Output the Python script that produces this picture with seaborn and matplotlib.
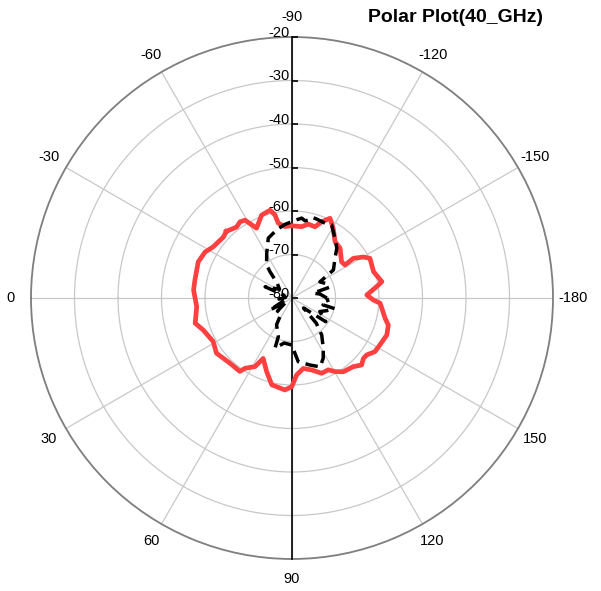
import numpy as np
import pandas as pd
import matplotlib
matplotlib.use("Agg")
import matplotlib.pyplot as plt
import matplotlib.transforms as mtransforms
import matplotlib.markers as mmarkers
import seaborn as sns

# ---------------- data (angle in degrees, level in dB) ----------------
red_theta = [-45.4, -52.0, -55.7, -58.9, -63.1, -69.9, -76.0, -78.4, -79.6, -84.4,
             -89.8, -97.7, -102.5, -107.9, -111.3, -115.5, -120.6, -127.4, -134.0, -143.9,
             -148.1, -147.1, -150.1, -153.0, -162.1, -169.7, -172.4, -177.7, 178.6, 176.6,
             173.4, 167.7, 164.3, 158.7, 151.9, 147.1, 142.7, 139.8, 136.1, 131.7,
             124.8, 120.3, 116.8, 111.5, 105.3, 99.1, 93.5, 89.8, 85.6, 76.9,
             71.0, 64.5, 61.7, 56.2, 54.6, 46.3, 36.2, 28.9, 19.8, 14.6,
             5.2, -4.6, -10.5, -21.1, -27.9, -33.0, -41.6]
red_value = [-58.5, -59.3, -58.8, -59.1, -62.0, -59.7, -59.2, -60.5, -62.5, -63.5,
             -63.4, -63.45, -62.6, -62.8, -61.2, -59.7, -61.4, -63.7, -64.1, -65.9,
             -65.65, -63.2, -61.1, -59.9, -60.3, -59.0, -60.4, -62.8, -61.3, -59.7,
             -59.2, -58.1, -57.0, -56.6, -57.1, -57.3, -58.4, -58.5, -57.8, -58.85,
             -59.35, -60.4, -61.5, -61.4, -62.85, -63.6, -62.3, -59.6, -58.8, -59.5,
             -62.1, -64.6, -62.1, -60.55, -59.3, -59.3, -58.5, -59.3, -58.3, -57.0,
             -58.0, -57.3, -57.3, -56.9, -57.4, -58.4, -58.9]

black_theta = [-180, -172, -167, -164, -157, -150, -145.9, -137.3, -132.0, -125.8,
               -118.5, -113.8, -107.4, -104.9, -103, -99.6, -96.9, -93.4, -84.6, -80.3,
               -77, -68.4, -60.5, -52.5, -50.1, -45, -35, -22.7, -19, -5,
               5, 16, 28.6, 33, 42, 55, 60, 70.5, 71.3, 80,
               89.6, 95.6, 105.0, 112.2, 117.4, 121.9, 128.8, 134, 139, 145,
               154, 160, 166, 167.5, 172, 180]
black_value = [-72.0, -73.5, -75.0, -71.0, -71.5, -72.6, -68.5, -66.55, -64.6, -63.1,
               -60.9, -61.2, -61.0, -60.9, -61.6, -62.0, -61.5, -62.0, -63.0, -63.6,
               -64.0, -65.2, -68.2, -70.4, -72.1, -75.2, -76.5, -73.3, -77.9, -78.5,
               -77.0, -78.3, -74.2, -78.5, -75.5, -75.7, -72.9, -70.6, -67.8, -69.5,
               -69.2, -65.3, -64.05, -62.9, -64.4, -66.4, -69.1, -72.0, -76.5, -70.5,
               -72.9, -71.5, -69.9, -72.7, -71.5, -72.0]

angle_ticks = [0, 30, 60, 90, 120, 150, 180, 210, 240, 270, 300, 330]
angle_labels = ["0", "30", "60", "90", "120", "150", "-180", "-150", "-120", "-90", "-60", "-30"]
r_ticks = [-80, -70, -60, -50, -40, -30, -20]
title_text = "Polar Plot(40_GHz)"

# ---------------- figure ----------------
plt.rcParams["font.family"] = ["Liberation Sans", "DejaVu Sans"]
fig = plt.figure(figsize=(6.01, 5.91), dpi=100)
ax = fig.add_axes([31 / 601, 32 / 591, 522 / 601, 522 / 591], projection="polar")
ax.set_theta_zero_location("W")
ax.set_theta_direction(1)
ax.set_ylim(-80, -20)

red_t = np.deg2rad(np.append(red_theta, red_theta[0]))
red_v = np.append(red_value, red_value[0])
df_red = pd.DataFrame({"theta": red_t, "level": red_v, "trace": "Co-pol"})
df_black = pd.DataFrame({"theta": np.deg2rad(black_theta), "level": black_value, "trace": "Cross-pol"})

sns.lineplot(data=df_red, x="theta", y="level", sort=False, estimator=None,
             color="#ff4040", linewidth=3.4, ax=ax, legend=False, zorder=4)
sns.lineplot(data=df_black, x="theta", y="level", sort=False, estimator=None,
             color="black", linewidth=2.5, ax=ax, legend=False, zorder=5)
ax.lines[-1].set_dashes((3.6, 1.9))
ax.set_xlabel("")
ax.set_ylabel("")

# grid / spines
ax.set_xticks(np.deg2rad(angle_ticks))
ax.set_xticklabels(angle_labels)
ax.set_yticks(r_ticks)
ax.set_yticklabels([])
ax.grid(True, color="#c8c8c8", linewidth=0.9)
ax.spines["polar"].set_color("#7f7f7f")
ax.spines["polar"].set_linewidth(1.3)
ax.tick_params(axis="x", direction="out", length=4, width=1.2, color="black",
               pad=3.5, labelsize=10.5)
ax.tick_params(axis="y", length=0)

# vertical black axis line through the centre
ax.plot([0.5, 0.5], [0, 1], transform=ax.transAxes, color="black",
        linewidth=1.2, zorder=3, clip_on=False)

# radial tick marks and labels on the upper axis
ax.plot(np.full(len(r_ticks), np.deg2rad(-90)), r_ticks, linestyle="none",
        marker=mmarkers.TICKRIGHT, markersize=4, markeredgewidth=1.2,
        color="black", zorder=3, clip_on=False)
off = mtransforms.offset_copy(ax.transData, fig=fig, x=-2, y=4, units="dots")
for r in r_ticks:
    ax.text(np.deg2rad(-90), r, str(r), transform=off, ha="right", va="center",
            fontsize=10.5, zorder=6)

fig.text(455 / 601, 1 - 18 / 591, title_text, ha="center", va="center",
         fontsize=14, fontweight="bold")

fig.savefig("out.png", dpi=100)
